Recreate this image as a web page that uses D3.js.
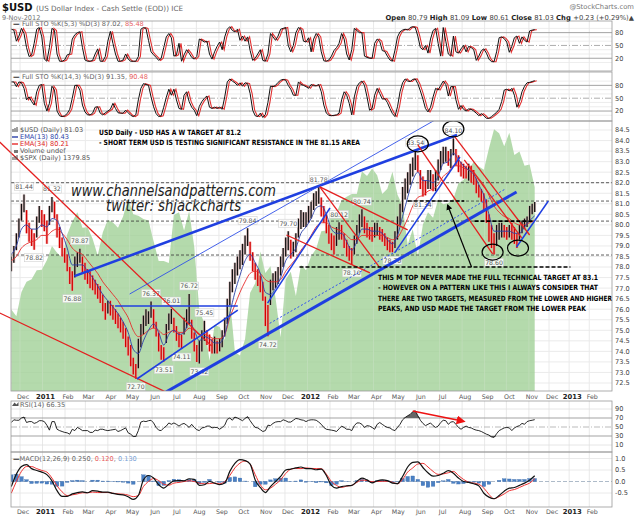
<!DOCTYPE html>
<html>
<head>
<meta charset="utf-8">
<script src="https://cdn.jsdelivr.net/npm/d3@7"></script>
<style>
  body { margin: 0; background: #fff; }
  svg { display: block; }
  text { font-family: "DejaVu Sans", Verdana, sans-serif; }
</style>
</head>
<body>
<svg id="chart" width="640" height="517"></svg>
<script>
// ---- data (half-week samples from 19-Nov-2010 to 9-Nov-2012) ----
const usdHigh = [
  78.5, 79.0, 79.6, 80.3, 81.0, 81.44, 80.7, 80.1, 79.8, 79.6,
  80.4, 80.9, 80.7, 80.5, 80.2, 80.9, 81.32, 81.1, 80.5, 79.9,
  79.4, 78.9, 78.6, 78.0, 77.8, 78.5, 78.7, 78.87, 78.5, 78.2,
  77.9, 77.8, 77.6, 77.4, 77.2, 77.1, 76.7, 76.3, 76.4, 76.4,
  76.2, 76.0, 75.8, 75.6, 75.4, 75.1, 74.7, 74.3, 73.7, 73.4,
  74.6, 75.3, 75.7, 76.0, 75.9, 76.37, 76.0, 75.4, 74.9, 74.3,
  74.2, 75.3, 75.8, 76.01, 75.6, 75.2, 74.9, 74.8, 75.6, 76.0,
  76.72, 75.5, 74.9, 74.3, 74.5, 75.0, 75.45, 75.0, 74.8, 74.6,
  74.7, 74.5, 74.6, 75.0, 75.6, 76.5, 77.3, 77.9, 78.2, 78.5,
  78.8, 79.1, 79.5, 79.84, 79.2, 78.7, 78.2, 77.9, 77.6, 77.3,
  76.6, 76.2, 77.4, 77.7, 77.8, 78.0, 78.5, 78.9, 79.4, 79.70,
  79.3, 79.2, 79.6, 80.3, 80.7, 80.6, 80.6, 80.9, 81.1, 81.5,
  81.6, 81.78, 81.3, 80.9, 80.5, 80.0, 79.6, 79.5, 79.9, 80.12,
  80.0, 79.6, 79.3, 79.0, 78.9, 79.5, 80.0, 80.5, 80.74, 80.4,
  80.1, 79.9, 79.9, 80.1, 80.1, 79.9, 79.8, 79.6, 79.4, 79.3,
  79.2, 79.7, 80.4, 81.0, 81.8, 82.2, 82.5, 82.9, 83.2, 83.54,
  83.3, 82.6, 82.3, 82.1, 82.6, 82.6, 82.4, 82.6, 83.1, 83.5,
  83.7, 83.7, 83.5, 83.6, 84.10, 83.6, 83.3, 83.0, 82.9, 82.8,
  82.9, 82.8, 82.6, 82.2, 81.9, 81.7, 81.5, 81.2, 80.5, 80.0,
  79.6, 80.0, 80.1, 80.1, 80.0, 79.9, 80.0, 80.1, 79.9, 79.6,
  80.0, 80.2, 80.3, 80.4, 80.9, 81.0, 81.09
];
const usdLow = [
  77.8, 78.2, 78.8, 79.4, 80.2, 80.6, 79.6, 79.2, 79.0, 78.82,
  79.4, 80.1, 79.9, 79.7, 79.1, 80.0, 80.6, 80.3, 79.4, 78.9,
  78.5, 78.2, 77.8, 77.2, 76.88, 77.5, 78.0, 78.2, 77.7, 77.4,
  77.2, 77.0, 76.9, 76.7, 76.5, 76.3, 75.9, 75.5, 75.8, 75.7,
  75.5, 75.3, 75.1, 74.9, 74.6, 74.2, 73.8, 73.3, 72.9, 72.70,
  73.2, 74.2, 74.8, 75.2, 75.3, 75.6, 75.1, 74.7, 74.0, 73.6,
  73.51, 74.4, 75.0, 75.3, 74.9, 74.5, 74.2, 74.11, 74.8, 75.1,
  75.3, 74.6, 74.0, 73.5, 73.42, 74.0, 74.5, 74.3, 74.0, 73.9,
  73.9, 73.9, 74.0, 74.2, 74.7, 75.3, 76.2, 76.8, 77.2, 77.6,
  77.9, 78.1, 78.6, 79.0, 78.3, 77.8, 77.4, 77.1, 76.8, 76.4,
  75.2, 74.72, 76.2, 76.9, 77.0, 77.2, 77.6, 78.0, 78.5, 78.8,
  78.4, 78.5, 78.7, 79.4, 79.8, 79.9, 79.9, 80.1, 80.3, 80.7,
  80.9, 81.0, 80.4, 80.1, 79.6, 79.1, 78.8, 78.6, 79.0, 79.3,
  79.3, 78.9, 78.5, 78.3, 78.10, 78.6, 79.1, 79.6, 79.9, 79.6,
  79.4, 79.3, 79.2, 79.4, 79.5, 79.3, 79.2, 79.0, 78.8, 78.7,
  78.70, 78.9, 79.3, 80.0, 80.6, 81.2, 81.5, 81.9, 82.3, 82.6,
  82.5, 81.7, 81.34, 81.4, 81.7, 81.7, 81.6, 81.6, 82.1, 82.6,
  82.9, 83.0, 82.8, 82.7, 83.3, 82.8, 82.5, 82.3, 82.2, 82.2,
  82.1, 82.0, 81.9, 81.5, 81.3, 81.1, 80.7, 80.1, 79.2, 78.9,
  78.60, 79.0, 79.3, 79.4, 79.4, 79.3, 79.4, 79.3, 79.1, 78.9,
  79.3, 79.6, 79.8, 79.9, 80.2, 80.5, 80.61
];
const stoFast = [
  88, 86, 60, 72, 90, 78, 45, 24, 28, 55,
  88, 92, 70, 18, 13, 45, 90, 85, 30, 13,
  13, 16, 28, 30, 65, 75, 80, 82, 45, 16,
  13, 13, 15, 30, 42, 13, 13, 24, 60, 83,
  55, 30, 13, 13, 16, 30, 18, 13, 13, 13,
  24, 88, 92, 90, 62, 35, 28, 22, 15, 20,
  45, 70, 78, 68, 25, 28, 55, 13, 28, 40,
  32, 22, 18, 24, 65, 62, 58, 60, 30, 18,
  35, 48, 58, 40, 70, 88, 94, 85, 82, 88,
  62, 72, 60, 70, 38, 15, 20, 30, 40, 15,
  13, 30, 78, 70, 62, 72, 88, 90, 92, 50,
  35, 50, 80, 92, 88, 60, 58, 68, 35, 65,
  78, 70, 35, 14, 13, 16, 25, 38, 45, 55,
  78, 65, 30, 16, 40, 90, 85, 80, 80, 25,
  22, 20, 20, 55, 65, 60, 38, 36, 25, 16,
  13, 39, 70, 82, 86, 88, 86, 92, 94, 92,
  72, 45, 40, 50, 32, 65, 85, 90, 55, 25,
  92, 60, 30, 25, 72, 35, 32, 42, 50, 35,
  48, 45, 40, 15, 25, 38, 42, 32, 18, 12,
  12, 35, 68, 70, 66, 58, 34, 48, 68, 72,
  55, 70, 62, 58, 84, 86, 87
];
const stoSlow = [
  88, 88, 77, 88, 86, 73, 46, 53, 42, 34,
  65, 80, 82, 38, 20, 38, 78, 69, 20, 9,
  7, 9, 14, 24, 50, 80, 80, 69, 34, 18,
  11, 11, 15, 29, 30, 15, 11, 16, 20, 24,
  38, 26, 16, 15, 15, 22, 16, 10, 7, 11,
  46, 73, 84, 82, 80, 53, 30, 14, 7, 9,
  29, 52, 71, 57, 71, 46, 26, 24, 57, 65,
  42, 29, 22, 9, 31, 42, 50, 55, 29, 26,
  29, 26, 29, 24, 53, 88, 95, 90, 86, 80,
  86, 78, 86, 84, 61, 22, 9, 7, 15, 5,
  12, 40, 78, 77, 80, 87, 92, 94, 92, 80,
  71, 57, 57, 88, 82, 80, 77, 73, 82, 79,
  79, 82, 65, 34, 15, 10, 9, 10, 11, 15,
  46, 65, 57, 38, 11, 53, 77, 86, 90, 80,
  53, 22, 26, 57, 73, 61, 48, 49, 40, 26,
  14, 7, 30, 65, 86, 95, 90, 89, 94, 95,
  84, 67, 48, 26, 18, 29, 53, 73, 69, 80,
  90, 82, 55, 77, 77, 46, 24, 33, 24, 20,
  25, 24, 20, 15, 9, 14, 9, 3, 3, 7,
  12, 17, 24, 42, 69, 71, 67, 73, 57, 29,
  42, 65, 78, 86, 87, 89, 91
];
const rsi14 = [
  60, 66, 65, 65, 70, 72, 60, 62, 62, 58,
  60, 64, 64, 62, 54, 43, 62, 62, 45, 42,
  40, 38, 37, 34, 45, 42, 49, 46, 42, 42,
  42, 38, 38, 43, 42, 45, 45, 43, 42, 43,
  44, 45, 40, 42, 45, 48, 37, 34, 29, 29,
  42, 61, 63, 62, 64, 65, 59, 49, 43, 42,
  48, 52, 59, 56, 59, 56, 52, 56, 58, 54,
  49, 56, 49, 44, 42, 48, 49, 52, 52, 48,
  49, 49, 45, 49, 54, 67, 70, 65, 72, 70,
  67, 64, 69, 73, 64, 56, 49, 48, 44, 40,
  42, 54, 53, 58, 61, 62, 62, 66, 64, 61,
  61, 65, 69, 68, 66, 65, 62, 65, 66, 66,
  65, 61, 56, 49, 45, 44, 43, 42, 40, 46,
  52, 49, 45, 45, 42, 53, 59, 59, 56, 49,
  53, 52, 49, 45, 56, 60, 56, 52, 49, 48,
  44, 42, 49, 56, 66, 71, 75, 78, 84, 86,
  75, 65, 58, 53, 56, 59, 53, 49, 52, 60,
  65, 64, 56, 61, 62, 56, 49, 45, 49, 52,
  49, 48, 45, 43, 42, 40, 37, 34, 32, 28,
  27, 35, 42, 45, 48, 49, 48, 42, 48, 51,
  53, 58, 56, 62, 64, 65, 66.35
];

// ---- weekly samples (Fridays from 19-Nov-2010) ----
const ema13 = [
  78.6, 79.0, 79.8, 80.0, 79.8, 79.8, 80.0, 79.9, 80.3, 80.2,
  79.6, 78.9, 78.1, 78.1, 78.1, 77.8, 77.5, 77.1, 76.7, 76.4,
  76.1, 75.8, 75.4, 74.9, 74.1, 73.9, 74.5, 75.0, 75.3, 74.9,
  74.3, 74.8, 75.0, 74.8, 74.9, 75.4, 75.0, 74.5, 74.7, 74.6,
  74.4, 74.4, 74.8, 75.8, 76.8, 77.6, 78.3, 78.6, 78.2, 77.7,
  76.8, 76.7, 77.0, 77.5, 78.3, 78.6, 78.9, 79.6, 79.9, 80.3,
  80.8, 80.9, 80.5, 79.8, 79.6, 79.6, 79.2, 78.8, 79.2, 79.8,
  79.8, 79.7, 79.7, 79.6, 79.3, 79.1, 79.5, 80.4, 81.3, 82.1,
  82.5, 82.1, 82.1, 82.0, 82.3, 82.9, 83.0, 83.4, 83.1, 82.8,
  82.6, 82.4, 81.9, 81.4, 80.5, 79.7, 79.7, 79.7, 79.7, 79.6,
  79.6, 79.9, 80.2, 80.43
];
const ema34 = [
  78.3, 78.5, 78.9, 79.1, 79.2, 79.3, 79.5, 79.5, 79.7, 79.8,
  79.6, 79.3, 78.9, 78.7, 78.6, 78.3, 78.0, 77.7, 77.3, 77.0,
  76.7, 76.4, 76.0, 75.6, 75.0, 74.7, 74.8, 75.0, 75.1, 75.0,
  74.8, 74.9, 75.0, 74.9, 74.9, 75.1, 75.0, 74.8, 74.8, 74.7,
  74.6, 74.6, 74.8, 75.6, 76.2, 76.8, 77.3, 77.7, 77.8, 77.7,
  77.4, 77.3, 77.3, 77.4, 77.8, 78.1, 78.4, 78.8, 79.1, 79.5,
  79.9, 80.1, 80.1, 79.9, 79.8, 79.7, 79.5, 79.3, 79.3, 79.5,
  79.5, 79.5, 79.5, 79.5, 79.4, 79.3, 79.4, 79.8, 80.3, 80.9,
  81.3, 81.4, 81.6, 81.7, 81.9, 82.3, 82.5, 82.8, 82.8, 82.7,
  82.6, 82.5, 82.2, 81.9, 81.4, 80.9, 80.6, 80.4, 80.3, 80.1,
  80.0, 80.0, 80.1, 80.21
];
const spxClose = [
  1199, 1189, 1225, 1240, 1244, 1257, 1258,
  1272, 1293, 1283, 1276, 1310, 1329, 1343, 1320, 1321, 1304, 1279, 1313, 1332,
  1328, 1320, 1337, 1363, 1340, 1338, 1333, 1331, 1300, 1271, 1271, 1268, 1339,
  1343, 1316, 1345, 1292, 1199, 1178, 1123, 1176, 1173, 1154, 1216, 1136, 1131,
  1155, 1224, 1238, 1285, 1253, 1263, 1216, 1158, 1244, 1255, 1219, 1265, 1257,
  1278, 1289, 1315, 1316, 1344, 1342, 1361, 1366, 1370, 1370, 1404, 1397, 1408,
  1398, 1370, 1378, 1403, 1369, 1353, 1295, 1318, 1278, 1325, 1343, 1335, 1362,
  1355, 1357, 1363, 1386, 1391, 1406, 1418, 1411, 1406, 1438, 1466, 1460, 1441,
  1461, 1428, 1433, 1412, 1414, 1380
];
const macdLine = [
  -0.22, 0.32, 0.65, 0.73, 0.56, 0.48, 0.41, 0.30, 0.03, -0.40,
  -0.65, -0.65, -0.54, -0.48, -0.45, -0.49, -0.40, -0.42, -0.46, -0.46,
  -0.52, -0.56, -0.58, -0.66, -0.78, -0.61, 0.07, 0.26, 0.15, -0.14,
  -0.29, -0.12, 0.03, 0.04, 0.03, 0.12, 0.09, -0.17, -0.14, 0.0,
  -0.07, -0.14, -0.07, 0.44, 0.79, 0.95, 0.91, 0.76, 0.07, -0.26,
  -0.48, -0.22, 0.0, 0.22, 0.50, 0.54, 0.59, 0.63, 0.56, 0.56,
  0.51, 0.54, 0.26, -0.17, -0.29, -0.22, -0.19, -0.17, 0.0, 0.15,
  0.07, -0.06, 0.03, 0.07, 0.04, -0.07, -0.09, 0.22, 0.63, 0.83,
  0.85, 0.61, 0.38, 0.23, 0.26, 0.36, 0.47, 0.36, 0.15, 0.0,
  -0.04, -0.10, -0.19, -0.51, -0.68, -0.75, -0.61, -0.42, -0.29, -0.26,
  -0.17, -0.07, 0.06, 0.25
];
const macdSignal = [
  -0.51, 0.0, 0.44, 0.65, 0.65, 0.56, 0.48, 0.41, 0.15, -0.19,
  -0.45, -0.61, -0.58, -0.54, -0.49, -0.49, -0.46, -0.48, -0.48, -0.48,
  -0.51, -0.54, -0.55, -0.59, -0.66, -0.61, -0.22, 0.0, 0.13, 0.04,
  -0.12, -0.16, -0.07, -0.04, 0.0, 0.03, 0.0, -0.07, -0.10, -0.09,
  -0.07, -0.10, 0.0, 0.26, 0.59, 0.80, 0.89, 0.76, 0.30, -0.14,
  -0.36, -0.29, -0.12, 0.07, 0.35, 0.53, 0.57, 0.56, 0.59, 0.57,
  0.56, 0.56, 0.32, 0.0, -0.17, -0.26, -0.20, -0.17, -0.04, 0.06,
  0.04, -0.01, 0.0, 0.01, 0.01, -0.03, -0.10, 0.09, 0.41, 0.59,
  0.76, 0.79, 0.63, 0.44, 0.31, 0.33, 0.38, 0.44, 0.26, 0.09,
  -0.03, -0.07, -0.12, -0.29, -0.56, -0.75, -0.66, -0.54, -0.40, -0.35,
  -0.26, -0.16, -0.07, 0.12
];
const macdHist = [
  0.29, 0.32, 0.21, 0.08, -0.09, -0.08, -0.07, -0.11, -0.12, -0.21,
  -0.20, -0.04, 0.04, 0.06, 0.04, 0.0, 0.06, 0.06, 0.02, 0.02,
  -0.01, -0.02, -0.03, -0.07, -0.12, 0.0, 0.29, 0.26, 0.02, -0.18,
  -0.17, 0.04, 0.10, 0.08, 0.03, 0.09, 0.09, -0.10, -0.04, 0.09,
  0.0, -0.04, -0.07, 0.18, 0.20, 0.15, 0.02, 0.0, -0.23, -0.12,
  -0.12, 0.07, 0.12, 0.15, 0.15, 0.01, 0.02, 0.07, -0.03, -0.01,
  -0.05, -0.02, -0.06, -0.17, -0.12, 0.04, 0.01, 0.0, 0.04, 0.09,
  0.03, -0.05, 0.03, 0.06, 0.03, -0.04, 0.01, 0.13, 0.22, 0.24,
  0.09, -0.18, -0.25, -0.21, -0.05, 0.03, 0.09, -0.08, -0.11, -0.09,
  -0.01, -0.03, -0.07, -0.22, -0.12, 0.0, 0.05, 0.12, 0.11, 0.09,
  0.09, 0.09, 0.13, 0.13
];

// labelled highs / lows: [sample index, value, "h" above | "l" below]
const pivotLabels = [
  [5, 81.44, "h"], [9, 78.82, "l"], [16, 81.32, "h"], [24, 76.88, "l"], [27, 78.87, "h"],
  [49, 72.70, "l"], [55, 76.37, "h"], [60, 73.51, "l"], [63, 76.01, "h"], [67, 74.11, "l"],
  [70, 76.72, "h"], [74, 73.42, "l"], [76, 75.45, "h"], [93, 79.84, "h"], [101, 74.72, "l"],
  [109, 79.70, "h"], [121, 81.78, "h"], [129, 80.12, "h"], [134, 78.10, "l"], [138, 80.74, "h"],
  [150, 78.70, "l"], [159, 83.54, "h"], [162, 81.34, "l"], [174, 84.10, "h"], [190, 78.60, "l"]
];

// chartist's trendlines: [date, price, date, price, colour, width, dash]
const trendLines = [
  ["2010-11-03", 83.93, "2011-08-22", 74.25, "#e41f1f", 1.3, null],
  ["2010-11-03", 75.82, "2011-06-20", 72.07, "#e41f1f", 1.3, null],
  ["2011-06-20", 72.07, "2012-10-15", 81.56, "#1f3fe0", 3, null],
  ["2011-11-10", 75.33, "2012-09-29", 81.69, "#3050f0", 1, "2,2"],
  ["2011-02-14", 77.57, "2012-07-25", 84.26, "#1f3fe0", 2.6, null],
  ["2011-05-01", 76.72, "2012-06-27", 85.02, "#3050e8", 0.9, null],
  ["2011-04-11", 76.15, "2011-09-27", 76.15, "#1f3fe0", 1.6, null],
  ["2011-05-11", 72.69, "2011-09-27", 75.96, "#1f3fe0", 1.6, null],
  ["2011-11-07", 76.29, "2012-02-01", 80.80, "#1f3fe0", 1.5, null],
  ["2012-04-30", 78.67, "2012-07-29", 83.22, "#1f3fe0", 1.5, null],
  ["2012-10-15", 78.95, "2012-11-30", 81.13, "#1f3fe0", 1.5, null],
  ["2012-01-18", 81.80, "2012-05-18", 79.76, "#e41f1f", 1.3, null],
  ["2012-01-18", 81.80, "2012-04-09", 78.00, "#e41f1f", 1.3, null],
  ["2011-12-03", 79.52, "2012-03-27", 77.72, "#e41f1f", 1.3, null],
  ["2012-06-01", 83.79, "2012-09-12", 78.62, "#e41f1f", 1.3, null],
  ["2012-07-22", 84.17, "2012-11-02", 79.52, "#e41f1f", 1.3, null],
  ["2012-08-04", 83.08, "2012-10-22", 79.38, "#e41f1f", 1.3, null]
];
const levelLines = [82.0, 81.13, 80.18, 78.57];
const boldLevels = [
  [78.0, "2011-12-21", "2013-01-03"],
  [81.13, "2012-05-18", "2012-08-04"],
  [80.18, "2012-08-18", "2012-11-06"]
];
const circleMarks = [["2012-06-01", 83.84], ["2012-07-20", 84.55], ["2012-09-12", 78.71], ["2012-10-17", 78.90]];
const priceArrow = ["2012-08-14", 78.0, "2012-07-12", 80.94];
const rsiArrow = ["2012-05-25", 85.6, "2012-08-01", 63.3];

const noteTop = [
  "USD Daily - USD HAS A W TARGET AT 81.2",
  "- SHORT TERM USD IS TESTING SIGNIFICANT RESISTANCE IN THE 81.15 AREA"
];
const noteBottom = [
  "THIS M TOP NEVER MADE THE FULL TECHNICAL TARGET AT 83.1",
  "- HOWEVER ON A PATTERN LIKE THIS I ALWAYS CONSIDER THAT",
  "THERE ARE TWO TARGETS, MEASURED FROM THE LOWER AND HIGHER",
  "PEAKS, AND USD MADE THE TARGET FROM THE LOWER PEAK"
];

// ---- scales ----
const DAY = 864e5;
const startDate = new Date(2010, 10, 19);
const sampleDate = i => new Date(startDate.getTime() + i * 3.5 * DAY);
const weekDate = j => new Date(startDate.getTime() + j * 7 * DAY);
const parse = d3.timeParse("%Y-%m-%d");

const x = d3.scaleTime()
  .domain([startDate, sampleDate(206), new Date(2013, 2, 15)])
  .range([11.3, 534.7, 616.6]);

const PL = 11, PR = 612;
const yS1 = d3.scaleLinear([0, 100], [66.8, 24.1]);
const yS2 = d3.scaleLinear([0, 100], [119.6, 76.8]);
const yP = d3.scaleLinear([72.5, 84.5], [383, 130]);
const ySpx = d3.scaleLinear([1099, 1465], [377, 130]);
const yR = d3.scaleLinear([10, 90], [445, 409]);
const yM = d3.scaleLinear([-0.5, 1.0], [493, 458.5]);

const panels = [
  { id: "sto1", top: 21, bottom: 71 },
  { id: "sto2", top: 72, bottom: 121 },
  { id: "main", top: 121, bottom: 391 },
  { id: "rsi", top: 401, bottom: 452 },
  { id: "macd", top: 452, bottom: 507 }
];

const svg = d3.select("#chart");
svg.append("rect").attr("width", 640).attr("height", 517).attr("fill", "#fff");
const defs = svg.append("defs");
panels.forEach(p => {
  defs.append("clipPath").attr("id", "clip-" + p.id)
    .append("rect").attr("x", PL).attr("y", p.top).attr("width", PR - PL).attr("height", p.bottom - p.top);
});
defs.append("clipPath").attr("id", "clip-notes")
  .append("rect").attr("x", 0).attr("y", 121).attr("width", PR).attr("height", 270);
defs.append("marker").attr("id", "headBlack").attr("viewBox", "0 0 10 10")
  .attr("refX", 8).attr("refY", 5).attr("markerWidth", 6).attr("markerHeight", 6)
  .attr("orient", "auto").attr("markerUnits", "userSpaceOnUse")
  .append("path").attr("d", "M0,0L10,5L0,10z").attr("fill", "#000");
defs.append("marker").attr("id", "headRed").attr("viewBox", "0 0 10 10")
  .attr("refX", 6).attr("refY", 5).attr("markerWidth", 9).attr("markerHeight", 9)
  .attr("orient", "auto").attr("markerUnits", "userSpaceOnUse")
  .append("path").attr("d", "M0,0L10,5L0,10z").attr("fill", "#ee1111");

const months = d3.timeMonth.range(new Date(2010, 11, 1), new Date(2013, 2, 1));
const GRID = "#e2e2e2";

// month grid lines in every panel
panels.forEach(p => {
  svg.append("g").selectAll("line").data(months).join("line")
    .attr("x1", d => x(d)).attr("x2", d => x(d))
    .attr("y1", p.top).attr("y2", p.bottom)
    .attr("stroke", GRID).attr("stroke-width", 0.8);
});

function hLines(values, yScale, stroke, width, dash) {
  svg.append("g").selectAll("line").data(values).join("line")
    .attr("x1", PL).attr("x2", PR)
    .attr("y1", d => yScale(d)).attr("y2", d => yScale(d))
    .attr("stroke", stroke).attr("stroke-width", width)
    .attr("stroke-dasharray", dash);
}
function rightLabels(values, yScale, fmt) {
  svg.append("g").selectAll("text").data(values).join("text")
    .attr("x", 615).attr("y", d => yScale(d) + 2.4)
    .attr("font-size", 6.6).attr("fill", "#444")
    .text(fmt);
}

// ---- stochastic panels ----
[[yS1, stoFast, "sto1", "Full STO %K(5,3) %D(3) 87.02, ", "85.48"],
 [yS2, stoSlow, "sto2", "Full STO %K(14,3) %D(3) 91.35, ", "90.48"]].forEach(([ys, data, id, label, redVal]) => {
  hLines([10, 30, 40, 60, 70, 90], ys, "#e8e8e8", 0.8, null);
  hLines([20, 80], ys, "#999", 0.9, null);
  hLines([50], ys, "#999", 0.8, "6,2,1,2");
  rightLabels([80, 50, 20], ys, d => d);
  const line = d3.line().x((d, i) => x(sampleDate(i))).y(d => ys(d));
  const g = svg.append("g").attr("clip-path", `url(#clip-${id})`);
  g.append("path").datum(data).attr("d", line).attr("transform", "translate(2,0)")
    .attr("fill", "none").attr("stroke", "#e23030").attr("stroke-width", 1.1);
  g.append("path").datum(data).attr("d", line)
    .attr("fill", "none").attr("stroke", "#111").attr("stroke-width", 1);
  const top = ys(100);
  const t = svg.append("text").attr("x", 13).attr("y", top + 2.2).attr("font-size", 6.6).attr("fill", "#666");
  t.append("tspan").attr("fill", "#000").attr("font-weight", "bold").text("\u2014 ");
  t.append("tspan").text(label);
  t.append("tspan").attr("fill", "#e86060").text(redVal);
});

// ---- main panel ----
hLines(d3.range(72.5, 84.51, 0.5), yP, "#e6e6e6", 0.8, null);
rightLabels(d3.range(72.5, 84.51, 0.5), yP, d => d.toFixed(1));

const mainG = svg.append("g").attr("clip-path", "url(#clip-main)");

// S&P 500 overlay area
mainG.append("path").datum(spxClose)
  .attr("d", d3.area().x((d, j) => x(weekDate(j))).y0(391).y1(d => ySpx(d)))
  .attr("fill", "#9fcf95").attr("fill-opacity", 0.78);

// grid showing through the overlay
mainG.append("g").selectAll("line").data(months).join("line")
  .attr("x1", d => x(d)).attr("x2", d => x(d)).attr("y1", 121).attr("y2", 391)
  .attr("stroke", "#fff").attr("stroke-opacity", 0.25).attr("stroke-width", 0.8);

// dashed level lines
mainG.append("g").selectAll("line").data(levelLines).join("line")
  .attr("x1", PL).attr("x2", PR)
  .attr("y1", d => yP(d)).attr("y2", d => yP(d))
  .attr("stroke", "#333").attr("stroke-width", 0.8).attr("stroke-dasharray", "3,2");

// price bars
const mids = usdHigh.map((h, i) => (h + usdLow[i]) / 2);
const bars = mainG.append("g");
bars.selectAll("rect").data(usdHigh).join("rect")
  .attr("x", (d, i) => x(sampleDate(i)) - 1.4).attr("width", 2.8)
  .attr("y", d => yP(d)).attr("height", (d, i) => yP(usdLow[i]) - yP(d))
  .attr("fill", (d, i) => i > 0 && mids[i] < mids[i - 1] ? "#f19a9a" : "#d8b0b0")
  .attr("fill-opacity", 0.7);
bars.selectAll("line").data(usdHigh).join("line")
  .attr("x1", (d, i) => x(sampleDate(i))).attr("x2", (d, i) => x(sampleDate(i)))
  .attr("y1", d => yP(d)).attr("y2", (d, i) => yP(usdLow[i]))
  .attr("stroke", (d, i) => i > 0 && mids[i] < mids[i - 1] ? "#d40000" : "#111")
  .attr("stroke-width", 1.3);

// moving averages
const emaLine = d3.line().x((d, j) => x(weekDate(j))).y(d => yP(d)).curve(d3.curveMonotoneX);
mainG.append("path").datum(ema34).attr("d", emaLine)
  .attr("fill", "none").attr("stroke", "#e62a2a").attr("stroke-width", 0.9);
mainG.append("path").datum(ema13).attr("d", emaLine)
  .attr("fill", "none").attr("stroke", "#2a3fa8").attr("stroke-width", 0.9);

// pivot labels
const pl = mainG.append("g").selectAll("g").data(pivotLabels).join("g")
  .attr("transform", d => {
    const px = x(sampleDate(d[0]));
    const py = d[2] === "h" ? yP(d[1]) - 8 : yP(d[1]) + 8;
    return `translate(${px},${py})`;
  });
pl.append("rect").attr("x", -9.5).attr("y", -4).attr("width", 19).attr("height", 8)
  .attr("fill", "#fff").attr("fill-opacity", 0.85).attr("stroke", "#c8c8c8").attr("stroke-width", 0.5);
pl.append("text").attr("text-anchor", "middle").attr("y", 2.3)
  .attr("font-size", 6.2).attr("fill", "#555").text(d => d[1].toFixed(2));

// chartist annotations
const notes = svg.append("g").attr("clip-path", "url(#clip-notes)");
notes.selectAll("line.trend").data(trendLines).join("line").attr("class", "trend")
  .attr("x1", d => x(parse(d[0]))).attr("y1", d => yP(d[1]))
  .attr("x2", d => x(parse(d[2]))).attr("y2", d => yP(d[3]))
  .attr("stroke", d => d[4]).attr("stroke-width", d => d[5])
  .attr("stroke-dasharray", d => d[6]);
notes.selectAll("line.bold").data(boldLevels).join("line").attr("class", "bold")
  .attr("x1", d => x(parse(d[1]))).attr("x2", d => x(parse(d[2])))
  .attr("y1", d => yP(d[0])).attr("y2", d => yP(d[0]))
  .attr("stroke", "#000").attr("stroke-width", 1.6).attr("stroke-dasharray", "4,2");
notes.selectAll("ellipse").data(circleMarks).join("ellipse")
  .attr("cx", d => x(parse(d[0]))).attr("cy", d => yP(d[1]))
  .attr("rx", 10.5).attr("ry", 8).attr("fill", "none").attr("stroke", "#000").attr("stroke-width", 1.2);
notes.append("line")
  .attr("x1", x(parse(priceArrow[0]))).attr("y1", yP(priceArrow[1]))
  .attr("x2", x(parse(priceArrow[2]))).attr("y2", yP(priceArrow[3]))
  .attr("stroke", "#000").attr("stroke-width", 1.2).attr("marker-end", "url(#headBlack)");

// annotation text (narrow bold face, fitted to the widths seen on the chart)
const boldText = (txt, x0, y0, w) => svg.append("text").attr("x", x0).attr("y", y0)
  .attr("font-family", "'Liberation Sans Narrow', 'DejaVu Sans Condensed', Arial, sans-serif")
  .attr("font-weight", "bold").attr("font-size", 7.2).attr("fill", "#000")
  .attr("textLength", w).attr("lengthAdjust", "spacingAndGlyphs").text(txt);
boldText(noteTop[0], 99, 135, 142);
boldText(noteTop[1], 99, 145, 261);
[220, 220, 234, 208].forEach((w, k) => boldText(noteBottom[k], 378, 280 + k * 10.3, w));

svg.append("text").attr("x", 71).attr("y", 196)
  .attr("font-family", "'Liberation Serif', 'DejaVu Serif', serif").attr("font-style", "italic")
  .attr("font-size", 15).attr("fill", "#222")
  .attr("textLength", 205).attr("lengthAdjust", "spacingAndGlyphs")
  .text("www.channelsandpatterns.com");
svg.append("text").attr("x", 106).attr("y", 211)
  .attr("font-family", "'Liberation Serif', 'DejaVu Serif', serif").attr("font-style", "italic")
  .attr("font-size", 15).attr("fill", "#222")
  .attr("textLength", 135).attr("lengthAdjust", "spacingAndGlyphs")
  .text("twitter: shjackcharts");

// main legend
const legend = [
  ["$USD (Daily) 81.03", "#555", "bars"],
  ["EMA(13) 80.43", "#2a3fa8", "#2a3fa8"],
  ["EMA(34) 80.21", "#d22", "#e62a2a"],
  ["Volume undef", "#555", "vol"],
  ["$SPX (Daily) 1379.85", "#555", "bars"]
];
legend.forEach(([txt, col, icon], k) => {
  const ly = 130 + k * 7;
  if (icon === "bars") {
    [0, 2, 4].forEach((o, n) => svg.append("line").attr("x1", 13 + o).attr("x2", 13 + o)
      .attr("y1", ly - 1 - n).attr("y2", ly + 2).attr("stroke", "#444").attr("stroke-width", 1));
  } else if (icon === "vol") {
    svg.append("rect").attr("x", 14).attr("y", ly - 1).attr("width", 4).attr("height", 3).attr("fill", "#777");
  } else {
    svg.append("line").attr("x1", 12).attr("x2", 18).attr("y1", ly).attr("y2", ly)
      .attr("stroke", icon).attr("stroke-width", 1.4);
  }
  svg.append("text").attr("x", 20).attr("y", ly + 2.3).attr("font-size", 6.6).attr("fill", col).text(txt);
});

// ---- RSI panel ----
hLines([10, 90], yR, "#e0e0e0", 0.8, null);
hLines([70, 30], yR, "#999", 0.9, null);
hLines([50], yR, "#aaa", 0.8, "6,2,1,2");
rightLabels([90, 70, 50, 30, 10], yR, d => d);
const rsiG = svg.append("g").attr("clip-path", "url(#clip-rsi)");
rsiG.append("path").datum(rsi14)
  .attr("d", d3.area().x((d, i) => x(sampleDate(i))).y0(yR(70)).y1(d => yR(Math.max(d, 70))))
  .attr("fill", "#666");
rsiG.append("path").datum(rsi14)
  .attr("d", d3.area().x((d, i) => x(sampleDate(i))).y0(yR(30)).y1(d => yR(Math.min(d, 30))))
  .attr("fill", "#666");
rsiG.append("path").datum(rsi14)
  .attr("d", d3.line().x((d, i) => x(sampleDate(i))).y(d => yR(d)))
  .attr("fill", "none").attr("stroke", "#111").attr("stroke-width", 0.9);
svg.append("line")
  .attr("x1", x(parse(rsiArrow[0]))).attr("y1", yR(rsiArrow[1]))
  .attr("x2", x(parse(rsiArrow[2]))).attr("y2", yR(rsiArrow[3]))
  .attr("stroke", "#ee1111").attr("stroke-width", 1.5).attr("marker-end", "url(#headRed)");
svg.append("path").attr("d", "M12,406 l2.5,-3.5 l2,2 l2,-2.5 v4z").attr("fill", "#555");
svg.append("text").attr("x", 20).attr("y", 406.5).attr("font-size", 6.6).attr("fill", "#666").text("RSI(14) 66.35");

// ---- MACD panel ----
hLines([1.0, 0.5, -0.5], yM, "#e4e4e4", 0.8, null);
hLines([0], yM, "#9ab", 0.8, "4,2");
rightLabels([1.0, 0.5, 0.0, -0.5], yM, d => d.toFixed(1));
const macdG = svg.append("g").attr("clip-path", "url(#clip-macd)");
macdG.selectAll("rect").data(macdHist).join("rect")
  .attr("x", (d, j) => x(weekDate(j)) - 1.8).attr("width", 3.6)
  .attr("y", d => yM(Math.max(d, 0))).attr("height", d => Math.abs(yM(d) - yM(0)))
  .attr("fill", "#4a80c4").attr("stroke", "#2f62a3").attr("stroke-width", 0.3);
const macdPath = d3.line().x((d, j) => x(weekDate(j))).y(d => yM(d)).curve(d3.curveMonotoneX);
macdG.append("path").datum(macdSignal).attr("d", macdPath)
  .attr("fill", "none").attr("stroke", "#ee3333").attr("stroke-width", 1);
macdG.append("path").datum(macdLine).attr("d", macdPath)
  .attr("fill", "none").attr("stroke", "#111").attr("stroke-width", 1.2);
const mt = svg.append("text").attr("x", 13).attr("y", 461).attr("font-size", 6.6).attr("fill", "#666");
mt.append("tspan").attr("fill", "#000").attr("font-weight", "bold").text("\u2014");
mt.append("tspan").text("MACD(12,26,9) 0.250, ");
mt.append("tspan").attr("fill", "#e86060").text("0.120");
mt.append("tspan").text(", ");
mt.append("tspan").attr("fill", "#7aa2d6").text("0.130");

// ---- panel frames ----
panels.forEach(p => {
  svg.append("rect").attr("x", PL).attr("y", p.top).attr("width", PR - PL).attr("height", p.bottom - p.top)
    .attr("fill", "none").attr("stroke", "#999").attr("stroke-width", 0.8);
});

// ---- time axis labels ----
[398.5, 513.5].forEach(ty => {
  svg.append("g").selectAll("text").data(months).join("text")
    .attr("x", d => x(d) + 3).attr("y", ty)
    .attr("text-anchor", "middle")
    .attr("font-family", "'Liberation Sans', Arial, sans-serif")
    .attr("font-size", d => d.getMonth() === 0 ? 6.8 : 6.3)
    .attr("font-weight", d => d.getMonth() === 0 ? "bold" : "normal")
    .attr("fill", d => d.getMonth() === 0 ? "#222" : "#555")
    .text(d => d.getMonth() === 0 ? d.getFullYear() : d3.timeFormat("%b")(d));
});

// ---- header ----
const title = svg.append("text").attr("x", 2).attr("y", 10.5).attr("fill", "#666").attr("font-size", 7.2);
title.append("tspan").attr("font-weight", "bold").attr("font-size", 10).attr("fill", "#111").text("$USD ");
title.append("tspan").text("(US Dollar Index - Cash Settle (EOD)) ICE");
svg.append("text").attr("x", 634).attr("y", 9).attr("text-anchor", "end")
  .attr("font-size", 6.8).attr("fill", "#777").text("@StockCharts.com");
svg.append("text").attr("x", 2).attr("y", 19.5).attr("font-size", 6.6).attr("fill", "#777").text("9-Nov-2012");
const quote = [["Open", "80.79"], ["High", "81.09"], ["Low", "80.61"], ["Close", "81.03"], ["Chg", "+0.23 (+0.29%)\u25B2"]];
const qt = svg.append("text").attr("x", 634).attr("y", 19.5).attr("text-anchor", "end").attr("font-size", 6.8).attr("fill", "#222");
quote.forEach(([k, v], n) => {
  qt.append("tspan").attr("font-weight", "bold").text((n ? "  " : "") + k + " ");
  qt.append("tspan").attr("fill", "#444").text(v);
});
</script>
</body>
</html>
